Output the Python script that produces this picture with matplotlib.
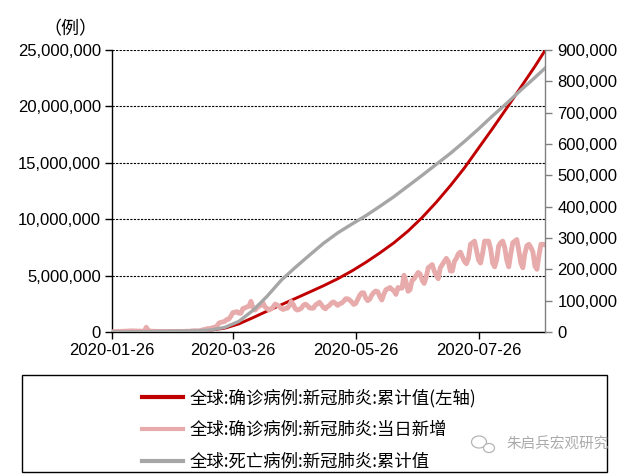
import matplotlib
matplotlib.use("Agg")
import matplotlib.pyplot as plt
import matplotlib.patches as mpatches
import matplotlib.ticker as mticker
import pandas as pd
import numpy as np

plt.rcParams['font.family'] = ['Liberation Sans', 'Noto Sans CJK SC', 'DejaVu Sans']

# ---------------- data ----------------
start_date = '2020-01-26'
end_date = '2020-08-28'

# daily new confirmed cases, world (right axis), 2020-01-26 .. 2020-08-28
daily_new = [
    # Jan 26-31
    700, 800, 1800, 1500, 2000, 2100,
    # Feb
    2600, 2800, 3200, 3900, 3700, 3200, 3400, 2700, 3000, 2500,
    2000, 15100, 5000, 2600, 2600, 2100, 2000, 1900, 1700, 600,
    1000, 1000, 600, 600, 900, 1000, 1200, 1400, 1800,
    # Mar
    1900, 1900, 2400, 2300, 2800, 3800, 4100, 3800, 4000, 4600,
    7000, 8000, 10000, 11000, 11000, 14000, 15000, 18000, 28000, 31000,
    32000, 34000, 40000, 41000, 50000, 62000, 63000, 65000, 60000, 60000, 75000,
    # Apr
    77000, 80000, 82000, 98000, 78000, 70000, 77000, 82000, 85000, 93000,
    80000, 75000, 70000, 74000, 80000, 89000, 86000, 82000, 75000, 72000,
    75000, 76000, 83000, 97000, 88000, 74000, 70000, 72000, 76000, 85000,
    # May
    89000, 85000, 77000, 76000, 76000, 86000, 90000, 95000, 87000, 78000,
    74000, 81000, 85000, 93000, 96000, 91000, 85000, 90000, 92000, 98000,
    106000, 106000, 102000, 96000, 88000, 91000, 104000, 117000, 125000, 125000, 108000,
    # Jun
    100000, 105000, 118000, 126000, 131000, 128000, 113000, 102000, 121000, 135000,
    138000, 142000, 136000, 131000, 120000, 142000, 140000, 140000, 181000, 160000,
    130000, 135000, 165000, 170000, 180000, 190000, 185000, 165000, 155000, 175000,
    # Jul
    205000, 210000, 215000, 195000, 180000, 170000, 205000, 215000, 225000, 235000,
    225000, 195000, 195000, 225000, 235000, 250000, 255000, 240000, 225000, 218000,
    235000, 280000, 285000, 290000, 260000, 230000, 220000, 250000, 290000, 290000, 290000,
    # Aug 1-28
    265000, 220000, 208000, 230000, 275000, 285000, 290000, 270000, 230000, 208000,
    250000, 285000, 290000, 295000, 260000, 220000, 205000, 250000, 275000, 280000,
    270000, 255000, 210000, 200000, 245000, 280000, 280000, 278000,
]

# cumulative confirmed (left axis) and cumulative deaths (right axis), weekly readings
cum_dates = ['2020-01-26', '2020-02-02', '2020-02-09', '2020-02-16', '2020-02-23',
             '2020-03-01', '2020-03-08', '2020-03-15', '2020-03-22', '2020-03-29',
             '2020-04-05', '2020-04-12', '2020-04-19', '2020-04-26', '2020-05-03',
             '2020-05-10', '2020-05-17', '2020-05-24', '2020-05-31', '2020-06-07',
             '2020-06-14', '2020-06-21', '2020-06-28', '2020-07-05', '2020-07-12',
             '2020-07-19', '2020-07-26', '2020-08-02', '2020-08-09', '2020-08-16',
             '2020-08-23', '2020-08-28']
cum_confirmed = [2100, 17000, 40000, 69000, 79000,
                 88000, 108000, 168000, 337000, 720000,
                 1270000, 1850000, 2410000, 2970000, 3530000,
                 4100000, 4710000, 5400000, 6170000, 7010000,
                 7910000, 8950000, 10150000, 11500000, 12970000,
                 14550000, 16300000, 18050000, 19850000, 21700000,
                 23550000, 24950000]
cum_deaths = [56, 362, 910, 1670, 2460,
              2990, 3800, 6500, 14700, 33900,
              69000, 114000, 165000, 206000, 245000,
              283000, 316000, 344000, 371000, 401000,
              432000, 466000, 500000, 535000, 570000,
              608000, 648000, 690000, 730000, 772000,
              812000, 842000]

xtick_labels = ['2020-01-26', '2020-03-26', '2020-05-26', '2020-07-26']
left_ticks = [0, 5000000, 10000000, 15000000, 20000000, 25000000]
right_ticks = [0, 100000, 200000, 300000, 400000, 500000, 600000, 700000, 800000, 900000]

labels = ['全球:确诊病例:新冠肺炎:累计值(左轴)',
          '全球:确诊病例:新冠肺炎:当日新增',
          '全球:死亡病例:新冠肺炎:累计值']

# ---------------- plot ----------------
W, H = 629, 476
fig = plt.figure(figsize=(W / 100, H / 100), dpi=100)
ax = fig.add_axes([112 / W, 1 - 332 / H, (545 - 112) / W, (332 - 50) / H])
ax2 = ax.twinx()

daily_dates = pd.date_range(start_date, periods=len(daily_new), freq='D')
cdates = pd.to_datetime(cum_dates)

red = '#C00000'
pink = '#E8ABAB'
gray = '#A6A6A6'

l1, = ax.plot(cdates, cum_confirmed, color=red, lw=2.1, zorder=3)
l2, = ax2.plot(daily_dates, daily_new, color=pink, lw=3.5, zorder=2)
l3, = ax2.plot(cdates, cum_deaths, color=gray, lw=2.4, zorder=3)

ax.set_xlim(pd.Timestamp(start_date), pd.Timestamp(end_date))
ax.set_ylim(0, 25000000)
ax2.set_ylim(0, 900000)

ax.set_yticks(left_ticks)
ax2.set_yticks(right_ticks)
fmt = mticker.FuncFormatter(lambda v, p: f'{int(round(v)):,}')
ax.yaxis.set_major_formatter(fmt)
ax2.yaxis.set_major_formatter(fmt)

ax.set_xticks(pd.to_datetime(xtick_labels))
ax.set_xticklabels(xtick_labels)

ax.grid(axis='y', color='black', linestyle=(0, (2, 1.2)), lw=0.8)
ax.set_axisbelow(True)

for a in (ax, ax2):
    a.spines['top'].set_visible(False)
ax2.spines['left'].set_visible(False)
ax2.spines['bottom'].set_visible(False)
ax.spines['right'].set_visible(False)
ax.spines['left'].set_color('black')
ax.spines['bottom'].set_color('black')
ax2.spines['right'].set_color('#808080')
ax.spines['left'].set_linewidth(1.0)
ax.spines['bottom'].set_linewidth(1.0)
ax2.spines['right'].set_linewidth(1.0)

ax.tick_params(axis='y', direction='out', length=5, width=1, color='black',
               labelsize=12, pad=3)
ax.tick_params(axis='x', direction='out', length=5, width=1, color='black',
               labelsize=12, pad=3)
ax2.tick_params(axis='y', direction='out', length=5, width=1, color='#808080',
                labelsize=12, pad=4, labelcolor='black')

fig.text(70 / W, 1 - 29 / H, '（例）', fontsize=13, ha='center', va='center',
         family=['Noto Sans CJK SC', 'DejaVu Sans'])

# legend box
rect = mpatches.Rectangle((22 / W, 1 - 472 / H), (607 - 22) / W, (472 - 375) / H,
                          transform=fig.transFigure, fill=False, edgecolor='black', lw=1.0)
fig.add_artist(rect)
leg = fig.legend([l1, l2, l3], labels, loc='upper left',
                 bbox_to_anchor=(126 / W, 1 - 373 / H), frameon=False,
                 prop={'family': ['Noto Sans CJK SC', 'DejaVu Sans'], 'size': 12.5},
                 handlelength=2.4, handletextpad=0.36, labelspacing=0.8)
for h in leg.get_lines():
    h.set_linewidth(3.0)

# watermark
for (cx, cy, w, h) in [(479, 442, 15, 12), (489, 448, 11, 9)]:
    e = mpatches.Ellipse((cx / W, 1 - cy / H), w / W, h / H, transform=fig.transFigure,
                         fill=True, facecolor='white', edgecolor='#B5B5B5', lw=0.9)
    fig.add_artist(e)
fig.text(506 / W, 1 - 445 / H, '朱启兵宏观研究', fontsize=10.5, color='#AAAAAA',
         ha='left', va='center', family=['Noto Sans CJK SC', 'DejaVu Sans'])

fig.savefig('out.png', dpi=100)
